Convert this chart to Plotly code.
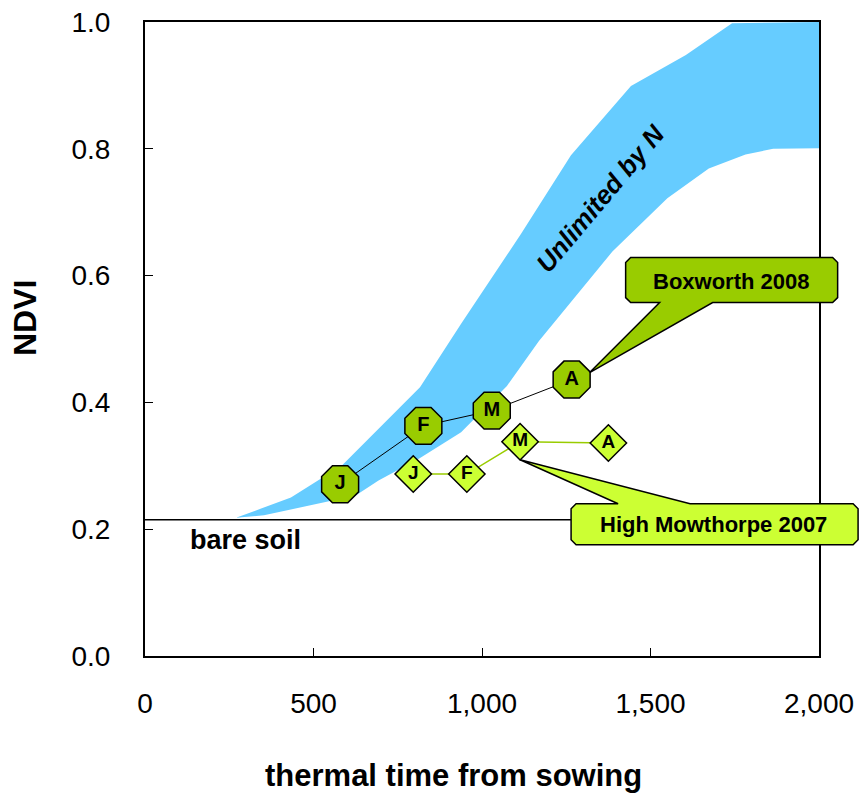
import plotly.graph_objects as go

# ---- data ----
band_upper_x = [87, 270, 433, 585, 816, 938, 1116, 1264, 1442, 1605, 1742, 2000]
band_upper_y = [0.216, 0.218, 0.250, 0.301, 0.424, 0.524, 0.666, 0.790, 0.899, 0.948, 0.998, 1.0]
band_lower_x = [87, 270, 353, 625, 693, 815, 938, 1074, 1169, 1387, 1550, 1673, 1782, 1864, 2000]
band_lower_y = [0.216, 0.218, 0.222, 0.253, 0.277, 0.312, 0.353, 0.426, 0.497, 0.638, 0.722, 0.769, 0.791, 0.800, 0.801]

months = ["J", "F", "M", "A"]
boxworth_x = [579, 826, 1029, 1266]
boxworth_y = [0.271, 0.363, 0.387, 0.436]
mowthorpe_x = [796, 955, 1113, 1375]
mowthorpe_y = [0.287, 0.287, 0.338, 0.336]

bare_soil = 0.215
x_range = [0, 2000]
y_range = [0, 1.0]
x_ticks = [0, 500, 1000, 1500, 2000]
y_ticks = [0.0, 0.2, 0.4, 0.6, 0.8, 1.0]

# ---- layout geometry ----
W, H = 859, 794
ML, MR, MT, MB = 145, 40, 22, 138
PW, PH = W - ML - MR, H - MT - MB
FONT = "Liberation Sans, Arial, sans-serif"


def to_paper(xd, yd, dx=0.0, dy=0.0):
    """data point + pixel offset (dx right, dy down) -> paper coords"""
    px = (xd - x_range[0]) / (x_range[1] - x_range[0]) + dx / PW
    py = (yd - y_range[0]) / (y_range[1] - y_range[0]) - dy / PH
    return px, py


def poly_path(pts):
    return "M " + " L ".join(f"{x:.5f},{y:.5f}" for x, y in pts) + " Z"


def callout(anchor_x, anchor_y, tip, box, base, c=5):
    # box = (left, top, right, bottom) pixel offsets from anchor
    l, t, r, b = box
    b0, b1 = base
    tx, ty = tip
    if ty > b:  # tip below box -> base on bottom edge
        pts = [(l + c, t), (r - c, t), (r, t + c), (r, b - c), (r - c, b),
               (b1, b), (tx, ty), (b0, b), (l + c, b), (l, b - c), (l, t + c)]
    else:  # tip above box -> base on top edge
        pts = [(l + c, t), (b0, t), (tx, ty), (b1, t), (r - c, t), (r, t + c),
               (r, b - c), (r - c, b), (l + c, b), (l, b - c), (l, t + c)]
    return poly_path([to_paper(anchor_x, anchor_y, dx, dy) for dx, dy in pts])


fig = go.Figure()

# Unlimited-by-N band
fig.add_trace(go.Scatter(
    x=band_upper_x + band_lower_x[::-1],
    y=band_upper_y + band_lower_y[::-1],
    fill="toself", fillcolor="#66CCFF", line=dict(width=0),
    mode="lines", hoverinfo="skip", showlegend=False))

# bare soil line
fig.add_trace(go.Scatter(
    x=x_range, y=[bare_soil, bare_soil], mode="lines",
    line=dict(color="black", width=1.5), showlegend=False, hoverinfo="skip"))

# High Mowthorpe 2007
fig.add_trace(go.Scatter(
    x=mowthorpe_x, y=mowthorpe_y, mode="lines+markers+text", text=months,
    textposition="middle center",
    textfont=dict(family=FONT, size=19, color="black", weight="bold"),
    line=dict(color="#99CC00", width=1.5),
    marker=dict(symbol="diamond", size=28, color="#CCFF33",
                line=dict(color="black", width=1.5)),
    showlegend=False))

# Boxworth 2008
fig.add_trace(go.Scatter(
    x=boxworth_x, y=boxworth_y, mode="lines+markers+text", text=months,
    textposition="middle center",
    textfont=dict(family=FONT, size=20, color="black", weight="bold"),
    line=dict(color="black", width=1),
    marker=dict(symbol="octagon", size=40, color="#99CC00",
                line=dict(color="black", width=1.5)),
    showlegend=False))

shapes = []
# Boxworth callout (anchored on April point)
bx, by = boxworth_x[3], boxworth_y[3]
shapes.append(dict(type="path", xref="paper", yref="paper", layer="above",
                   path=callout(bx, by, tip=(18, -7), box=(54, -122, 266, -77), base=(88, 141)),
                   fillcolor="#99CC00", line=dict(color="black", width=1.5)))
# High Mowthorpe callout (anchored on March point)
mx, my = mowthorpe_x[2], mowthorpe_y[2]
shapes.append(dict(type="path", xref="paper", yref="paper", layer="above",
                   path=callout(mx, my, tip=(0, 18), box=(51, 62, 338, 103), base=(98, 170)),
                   fillcolor="#CCFF33", line=dict(color="black", width=1.5)))

annotations = [
    dict(x=bx, y=by, xref="x", yref="y", xshift=160, yshift=98, showarrow=False,
         text="<b>Boxworth 2008</b>", font=dict(family=FONT, size=22, color="black")),
    dict(x=mx, y=my, xref="x", yref="y", xshift=193, yshift=-83, showarrow=False,
         text="<b>High Mowthorpe 2007</b>", font=dict(family=FONT, size=22, color="black")),
    dict(x=297, y=0.183, xref="x", yref="y", showarrow=False,
         text="<b>bare soil</b>", font=dict(family=FONT, size=27, color="black")),
    dict(x=1353, y=0.722, xref="x", yref="y", showarrow=False, textangle=-50,
         text="<b><i>Unlimited by N</i></b>", font=dict(family=FONT, size=26, color="black")),
    dict(x=(453 - ML) / PW, y=-(775 - MT - PH) / PH, xref="paper", yref="paper",
         xanchor="center", yanchor="middle", showarrow=False,
         text="<b>thermal time from sowing</b>", font=dict(family=FONT, size=31, color="black")),
    dict(x=(25 - ML) / PW, y=(MT + PH - 318) / PH, xref="paper", yref="paper",
         xanchor="center", yanchor="middle", showarrow=False,
         textangle=-90, text="<b>NDVI</b>", font=dict(family=FONT, size=32, color="black")),
]

fig.update_layout(
    width=W, height=H,
    margin=dict(l=ML, r=MR, t=MT, b=MB, pad=0, autoexpand=False),
    paper_bgcolor="white", plot_bgcolor="white",
    shapes=shapes, annotations=annotations,
    xaxis=dict(range=x_range, tickvals=x_ticks, tickformat=",d", automargin=False,
               showgrid=False, zeroline=False, showline=True, linecolor="black",
               linewidth=2, mirror=True, ticks="inside", ticklen=8, tickwidth=1,
               tickcolor="black", ticklabelstandoff=21,
               tickfont=dict(family=FONT, size=28, color="black")),
    yaxis=dict(range=y_range, tickvals=y_ticks, tickformat=".1f", automargin=False,
               showgrid=False, zeroline=False, showline=True, linecolor="black",
               linewidth=2, mirror=True, ticks="inside", ticklen=8, tickwidth=1,
               tickcolor="black", ticklabelstandoff=27,
               tickfont=dict(family=FONT, size=28, color="black")),
)

fig.write_html("out.html", config={"displayModeBar": False},
               post_script="document.body.style.margin='0';document.body.style.overflow='hidden';")
